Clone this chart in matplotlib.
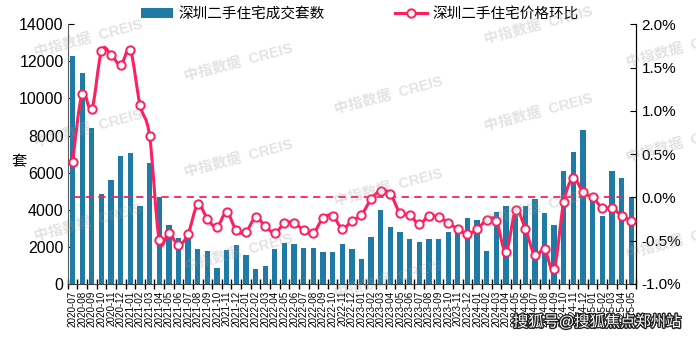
import numpy as np
import pandas as pd
import matplotlib
matplotlib.use("Agg")
import matplotlib.pyplot as plt
from matplotlib.path import Path
from matplotlib.patches import PathPatch, Patch
from matplotlib.lines import Line2D
import matplotlib.patheffects as pe

plt.rcParams['font.family'] = ['Liberation Sans', 'Noto Sans CJK SC', 'DejaVu Sans']

# data
months = [d.strftime('%Y-%m') for d in pd.date_range('2020-07-01', '2025-05-01', freq='MS')]

volume = [12300, 11350, 8400, 4850, 5600, 6880, 7050, 4230, 6520, 4690,
          3200, 2480, 2520, 1890, 1760, 880, 1820, 2100, 1550, 830,
          970, 1890, 2210, 2160, 1940, 1940, 1740, 1740, 2160, 1900,
          1350, 2530, 3990, 3090, 2790, 2410, 2260, 2410, 2410, 2780,
          2750, 3550, 3440, 1800, 3870, 4180, 4170, 4180, 4590, 3810,
          3180, 6090, 7130, 8280, 4600, 3670, 6090, 5730, 4670]

price_mom = [0.41, 1.20, 1.02, 1.69, 1.65, 1.53, 1.70, 1.07, 0.71, -0.49,
             -0.41, -0.55, -0.42, -0.08, -0.25, -0.34, -0.17, -0.38, -0.40, -0.23,
             -0.33, -0.41, -0.30, -0.29, -0.38, -0.41, -0.24, -0.21, -0.36, -0.27,
             -0.20, -0.02, 0.08, 0.04, -0.18, -0.20, -0.31, -0.21, -0.23, -0.29,
             -0.37, -0.42, -0.37, -0.26, -0.27, -0.63, -0.15, -0.36, -0.67, -0.60,
             -0.83, -0.05, 0.22, 0.06, 0.00, -0.12, -0.12, -0.21, -0.27]

bar_label = '深圳二手住宅成交套数'
line_label = '深圳二手住宅价格环比'

BAR_C = '#1f7aa5'
LINE_C = '#ff1f5e'


def smooth_path(xs, ys):
    # catmull-rom style bezier through the points (like excel smoothed lines)
    pts = np.column_stack([xs, ys]).astype(float)
    n = len(pts)
    verts = [pts[0]]
    codes = [Path.MOVETO]
    for i in range(n - 1):
        p0 = pts[i - 1] if i > 0 else pts[i]
        p1 = pts[i]
        p2 = pts[i + 1]
        p3 = pts[i + 2] if i + 2 < n else pts[i + 1]
        c1 = p1 + (p2 - p0) / 6.0
        c2 = p2 - (p3 - p1) / 6.0
        verts += [c1, c2, p2]
        codes += [Path.CURVE4] * 3
    return Path(verts, codes)


fig = plt.figure(figsize=(6.96, 3.37), dpi=100)
ax = fig.add_axes([0.0973, 0.1573, 0.8165, 0.7706])
ax2 = ax.twinx()

x = np.arange(len(months))
ax.bar(x, volume, width=0.55, color=BAR_C, zorder=2)
ax.set_xlim(-0.5, len(months) - 0.5)
ax.set_ylim(0, 14000)
ax.set_yticks(range(0, 14001, 2000))
ax.tick_params(axis='y', direction='in', length=4, labelsize=11.5, pad=3)
fig.text(19 / 696, 1 - 162 / 337, '套', fontsize=11, ha='center', va='center')

ax.set_xticks(np.arange(-0.5, len(months), 1.0))
ax.set_xticklabels([])
ax.tick_params(axis='x', which='major', direction='inout', length=7, width=1)
ax.set_xticks(x, minor=True)
ax.set_xticklabels(months, minor=True, rotation=90, fontsize=7.1)
ax.tick_params(axis='x', which='minor', length=0, pad=5)

ax2.set_ylim(-1.0, 2.0)
ax2.set_yticks(np.arange(-1.0, 2.01, 0.5))
ax2.set_yticklabels([f'{v:.1f}%' for v in np.arange(-1.0, 2.01, 0.5)])
ax2.tick_params(axis='y', direction='in', length=4, labelsize=11, pad=4)

ax2.hlines(0, 0, 57, colors=LINE_C, linestyles=(0, (4, 3)), linewidth=1.3, zorder=3)
ax2.add_patch(PathPatch(smooth_path(x, price_mom), fill=False, edgecolor=LINE_C, lw=2.2, zorder=4))
ax2.plot(x, price_mom, ls='none', marker='o', ms=6, mfc='white', mec=LINE_C, mew=1.4, zorder=5)

for a in (ax, ax2):
    a.spines['top'].set_visible(False)
ax.spines['left'].set_color('#595959')
ax.spines['bottom'].set_color('#404040')
ax2.spines['left'].set_visible(False)
ax2.spines['bottom'].set_visible(False)

handles = [Patch(facecolor=BAR_C, edgecolor='none'),
           Line2D([], [], color=LINE_C, lw=2.2, marker='o', ms=6, mfc='white', mec=LINE_C, mew=1.4)]
fig.legend(handles, [bar_label, line_label], loc='center', bbox_to_anchor=(0.517, 0.958),
           ncol=2, frameon=False, fontsize=10.5, handlelength=2.2, handletextpad=0.4,
           columnspacing=4.8)

# watermarks
wm_spots = [(88, 38), (238, 62), (388, 95), (538, 25), (680, 48),
            (88, 128), (238, 158), (388, 187), (538, 112), (680, 143),
            (88, 222), (238, 252), (388, 279), (538, 207), (680, 240)]
for px, py in wm_spots:
    fig.text(px / 696, 1 - py / 337, '中指数据  CREIS', fontsize=10.5, fontweight='bold',
             color='#9a9a9a', alpha=0.28, rotation=15, ha='center', va='center', zorder=10)

fig.text(597 / 696, 1 - 322 / 337, '搜狐号@搜狐焦点郑州站', fontsize=11, color='white',
         ha='center', va='center', zorder=11,
         path_effects=[pe.withStroke(linewidth=2, foreground='#222222')])

fig.savefig('out.png', dpi=100)
